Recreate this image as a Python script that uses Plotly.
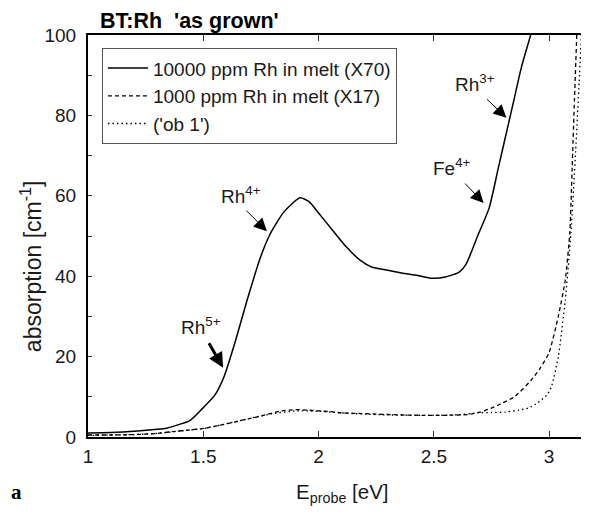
import plotly.graph_objects as go

# ---- data ----
x_10000 = [1.00, 1.10, 1.20, 1.30, 1.34, 1.40, 1.44, 1.49, 1.55, 1.59, 1.64, 1.69, 1.75, 1.79,
           1.85, 1.92, 1.96, 2.00, 2.06, 2.12, 2.18, 2.23, 2.30, 2.36, 2.43, 2.49, 2.55, 2.61,
           2.64, 2.69, 2.74, 2.78, 2.82, 2.85, 2.88, 2.92]
y_10000 = [1.0, 1.1, 1.4, 1.9, 2.2, 3.2, 4.0, 6.7, 10.4, 15.0, 24.0, 34.0, 45.0, 50.5,
           56.0, 59.5, 58.5, 55.7, 51.5, 47.3, 44.0, 42.3, 41.5, 40.8, 40.2, 39.5, 39.8, 41.0,
           43.0, 50.0, 57.0, 67.0, 77.0, 84.5, 92.0, 100.0]

x_1000 = [1.00, 1.10, 1.20, 1.30, 1.36, 1.45, 1.51, 1.57, 1.62, 1.67, 1.72, 1.78, 1.84, 1.90,
          1.95, 2.00, 2.05, 2.10, 2.15, 2.25, 2.35, 2.45, 2.55, 2.65, 2.70, 2.75, 2.80, 2.85,
          2.92, 2.96, 3.00, 3.04, 3.07, 3.09, 3.10, 3.11, 3.12]
y_1000 = [0.5, 0.5, 0.6, 0.9, 1.3, 1.8, 2.2, 2.9, 3.5, 4.2, 4.8, 5.7, 6.5, 6.8,
          6.7, 6.5, 6.3, 6.0, 5.9, 5.7, 5.5, 5.4, 5.4, 5.6, 6.2, 7.2, 8.5, 10.0,
          14.0, 17.0, 21.0, 30.0, 39.0, 51.0, 67.0, 84.0, 100.0]

x_ob1 = [1.00, 1.10, 1.20, 1.30, 1.40, 1.50, 1.60, 1.70, 1.80, 1.90, 2.00, 2.10, 2.20, 2.30,
         2.40, 2.50, 2.60, 2.69, 2.75, 2.81, 2.87, 2.91, 2.95, 2.99, 3.01, 3.04, 3.07, 3.095,
         3.115, 3.13, 3.14]
y_ob1 = [0.4, 0.5, 0.6, 0.9, 1.5, 2.1, 3.3, 4.6, 5.8, 6.5, 6.4, 6.0, 5.7, 5.5,
         5.4, 5.4, 5.5, 6.0, 6.1, 6.2, 6.7, 7.2, 8.5, 10.4, 12.5, 20.0, 34.0, 51.0,
         71.0, 88.0, 100.0]

series_names = ["10000 ppm Rh in melt (X70)", "1000 ppm Rh in melt (X17)", "('ob 1')"]

x_ticks = [1, 1.5, 2, 2.5, 3]
x_ticktext = ["1", "1.5", "2", "2.5", "3"]
y_ticks = [0, 20, 40, 60, 80, 100]
y_minor_ticks = [10, 30, 50, 70, 90]

# annotation labels: (text, label x, label y, arrow tip x, arrow tip y)
labels = ["Rh<sup>5+</sup>", "Rh<sup>4+</sup>", "Fe<sup>4+</sup>", "Rh<sup>3+</sup>"]
label_x = [1.491, 1.664, 2.578, 2.677]
label_y = [27.6, 60.2, 67.2, 88.0]
tip_x = [1.586, 1.776, 2.716, 2.815]
tip_y = [17.2, 51.2, 58.2, 79.4]
tail_dx = [-15, -22, -20, -21]
tail_dy = [-26, -22, -21, -20]

FONT = "Liberation Sans, Arial, sans-serif"
TXT = "#1a1a1a"

fig = go.Figure()
fig.add_trace(go.Scatter(x=x_10000, y=y_10000, mode="lines", name=series_names[0],
                         line=dict(color="black", width=1.5, shape="spline", smoothing=0.6)))
fig.add_trace(go.Scatter(x=x_1000, y=y_1000, mode="lines", name=series_names[1],
                         line=dict(color="black", width=1.3, dash="4px,3px",
                                   shape="spline", smoothing=0.5)))
fig.add_trace(go.Scatter(x=x_ob1, y=y_ob1, mode="lines", name=series_names[2],
                         line=dict(color="black", width=1.3, dash="1.5px,3px",
                                   shape="spline", smoothing=0.5)))

annotations = []
for i, t in enumerate(labels):
    annotations.append(dict(x=label_x[i], y=label_y[i], xref="x", yref="y", text=t,
                            showarrow=False, font=dict(family=FONT, size=19, color=TXT)))
    thick = (i == 0)
    annotations.append(dict(x=tip_x[i], y=tip_y[i], xref="x", yref="y", text="",
                            showarrow=True, ax=tail_dx[i], ay=tail_dy[i],
                            arrowhead=2, arrowcolor="black",
                            arrowwidth=3 if thick else 1,
                            arrowsize=1.0 if thick else 2.6, standoff=0))

annotations += [
    dict(x=0.02, y=1, xref="paper", yref="paper", xanchor="left", yanchor="middle",
         yshift=14, showarrow=False, text="<b>BT:Rh\u00a0\u00a0'as grown'</b>",
         font=dict(family=FONT, size=21.5, color="black")),
    dict(x=-0.144, y=-0.137, xref="paper", yref="paper", xanchor="center", yanchor="middle",
         showarrow=False, text="<b>a</b>",
         font=dict(family="Liberation Serif, Times New Roman, serif", size=21, color="black")),
    dict(x=0.512, y=0, xref="paper", yref="paper", xanchor="center", yanchor="middle",
         yshift=-56, showarrow=False, text="E<sub>probe</sub> [eV]",
         font=dict(family=FONT, size=20.5, color=TXT)),
    dict(x=0, y=0.425, xref="paper", yref="paper", xanchor="center", yanchor="middle",
         xshift=-57, textangle=-90, showarrow=False, text="absorption [cm<sup>-1</sup>]",
         font=dict(family=FONT, size=23, color=TXT)),
]

# The page body has an 8px margin: size the figure so the plot area lands where the reference has it.
fig.update_layout(
    width=581, height=509,
    margin=dict(l=80, r=1, t=27, b=80),
    paper_bgcolor="white", plot_bgcolor="white",
    showlegend=True,
    legend=dict(x=0.028, y=0.967, xanchor="left", yanchor="top",
                bgcolor="white", bordercolor="#555", borderwidth=1,
                font=dict(family=FONT, size=19, color=TXT),
                tracegroupgap=0, itemwidth=40),
    annotations=annotations,
    font=dict(family=FONT, color=TXT),
)

fig.update_xaxes(range=[1, 3.16], tickvals=x_ticks, ticktext=x_ticktext,
                 ticks="inside", ticklen=6, tickcolor="#333", tickwidth=1,
                 showline=True, linecolor="black", linewidth=2, mirror="ticks",
                 showgrid=False, zeroline=False, ticklabelstandoff=1,
                 tickfont=dict(family=FONT, size=19, color=TXT))
fig.update_yaxes(range=[0, 100], tickvals=y_ticks,
                 ticks="inside", ticklen=4, tickcolor="#333", tickwidth=1,
                 showline=True, linecolor="black", linewidth=2, mirror=True,
                 showgrid=False, zeroline=False, ticklabelstandoff=6,
                 minor=dict(tickvals=y_minor_ticks, ticks="inside", ticklen=4,
                            tickcolor="#333", tickwidth=1, showgrid=False),
                 tickfont=dict(family=FONT, size=19, color=TXT))

fig.write_html("out.html")
